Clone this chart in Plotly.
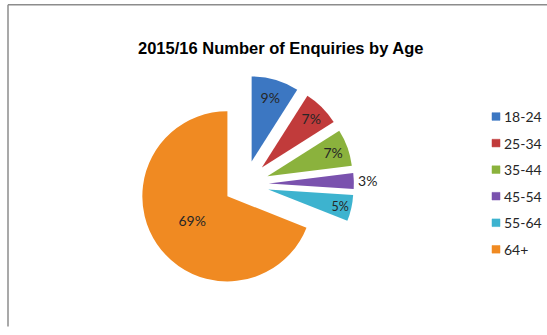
import plotly.graph_objects as go

# Enquiries by age band, 2015/16 (percent of total)
age_bands = ["18-24", "25-34", "35-44", "45-54", "55-64", "64+"]
shares = [9, 7, 7, 3, 5, 69]
slice_colors = ["#3C77C2", "#C13B3B", "#8BB23D", "#7A52AE", "#3DB3CF", "#F08A22"]
label_positions = ["inside", "inside", "inside", "outside", "inside", "inside"]
explode = [0.28, 0.28, 0.28, 0.28, 0.28, 0.25]

W, H = 547, 335

fig = go.Figure(
    go.Pie(
        labels=age_bands,
        values=shares,
        sort=False,
        direction="clockwise",
        rotation=0,
        pull=explode,
        marker=dict(colors=slice_colors, line=dict(width=0)),
        texttemplate="%{value}%",
        textposition=label_positions,
        insidetextorientation="horizontal",
        textfont=dict(family="Lato", size=14, color="#262626"),
        outsidetextfont=dict(family="Lato", size=14, color="#262626"),
        domain=dict(x=[131 / W, 359 / W], y=[1 - 307 / H, 1 - 79 / H]),
        showlegend=False,
        hoverinfo="label+percent",
    )
)

shapes = [
    # chart-area frame (top and left edges)
    dict(type="line", xref="paper", yref="paper", x0=8 / W, x1=1.02, y0=1 - 5 / H, y1=1 - 5 / H,
         line=dict(color="#8C8C8C", width=1.5)),
    dict(type="line", xref="paper", yref="paper", x0=8 / W, x1=8 / W, y0=1 - 5 / H, y1=-0.02,
         line=dict(color="#8C8C8C", width=1.5)),
]
annotations = [
    dict(text="<b>2015/16 Number of Enquiries by Age</b>", xref="paper", yref="paper",
         x=280 / W, y=1 - 50 / H, xanchor="center", yanchor="middle", showarrow=False,
         font=dict(family="Liberation Sans", size=16.5, color="#000000")),
]

# legend column on the right
leg_x, leg_y0, leg_dy = 492, 122, 27.8
for i, (lab, col) in enumerate(zip(age_bands, slice_colors)):
    yc = leg_y0 + i * leg_dy
    shapes.append(dict(type="rect", xref="paper", yref="paper",
                       x0=leg_x / W, x1=(leg_x + 8) / W,
                       y0=1 - (yc + 4) / H, y1=1 - (yc - 4) / H,
                       fillcolor=col, line=dict(color=col, width=0.5)))
    annotations.append(dict(text=lab, xref="paper", yref="paper",
                            x=(leg_x + 10) / W, y=1 - yc / H, xanchor="left", yanchor="middle",
                            showarrow=False,
                            font=dict(family="Lato", size=14, color="#262626")))

fig.update_layout(
    width=W,
    height=H,
    margin=dict(l=0, r=0, t=0, b=0),
    paper_bgcolor="white",
    plot_bgcolor="white",
    shapes=shapes,
    annotations=annotations,
)

fig.write_html("out.html")
